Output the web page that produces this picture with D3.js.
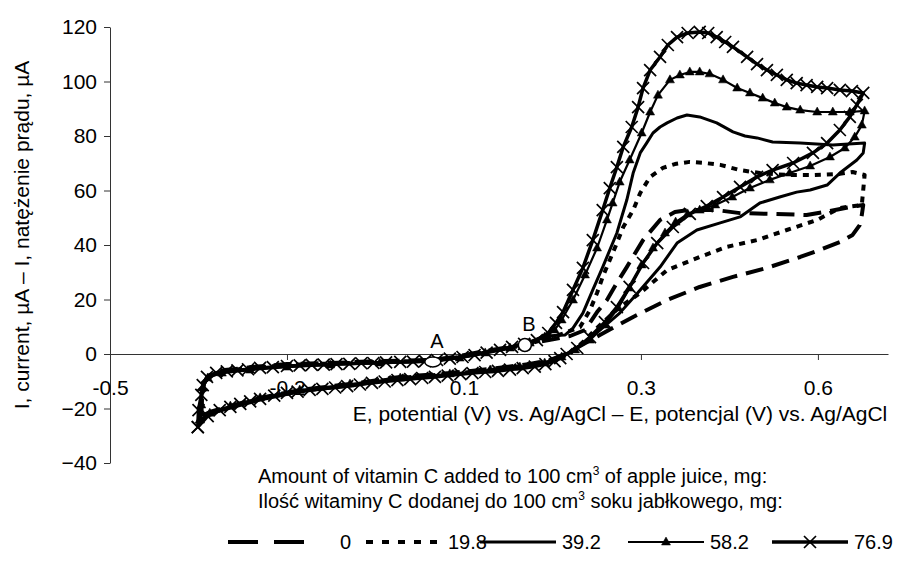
<!DOCTYPE html>
<html>
<head>
<meta charset="utf-8">
<script src="https://cdn.jsdelivr.net/npm/d3@7"></script>
<style>
  body { margin: 0; background: #fff; }
  text { font-family: "Liberation Sans", Arial, sans-serif; fill: #000; }
</style>
</head>
<body>
<svg id="chart" width="908" height="563"></svg>
<script>
// ---- data: [E (V), I (µA)], one loop per amount ----
const xTickValues = [-0.45, -0.2, 0.05, 0.3, 0.55];
const xTickLabels = ["-0.5", "-0.2", "0.1", "0.3", "0.6"];
const yTickValues = [-40, -20, 0, 20, 40, 60, 80, 100, 120];
const amounts = ["0", "19.8", "39.2", "58.2", "76.9"];

const cv0 = [
  [-0.321,-22.8],[-0.320,-16.5],[-0.317,-10.6],[-0.309,-7.7],[-0.288,-5.9],[-0.250,-4.8],[-0.200,-3.7],
  [-0.139,-3.3],[-0.069,-2.6],[0.006,-2.2],[0.044,-0.7],[0.080,1.1],[0.115,2.6],[0.143,4.0],[0.170,5.1],
  [0.200,6.6],[0.221,8.8],[0.238,15.4],[0.252,19.8],[0.266,26.1],[0.280,31.9],[0.303,41.8],[0.327,49.2],
  [0.348,52.1],[0.366,52.8],[0.407,52.8],[0.440,51.7],[0.489,51.4],[0.534,51.0],[0.567,52.5],[0.595,53.9],
  [0.614,54.7],[0.612,51.0],[0.609,47.3],[0.599,43.7],[0.581,41.1],[0.553,38.2],[0.525,35.6],[0.478,31.6],
  [0.430,28.3],[0.383,24.6],[0.337,19.8],[0.289,13.6],[0.242,7.0],[0.214,2.9],[0.193,0.0],[0.171,-2.2],
  [0.143,-3.7],[0.087,-5.5],[0.030,-7.0],[-0.040,-8.4],[-0.111,-11.0],[-0.182,-13.2],[-0.238,-16.1],
  [-0.280,-19.1],[-0.309,-21.3],[-0.321,-22.8]
];
const cv19 = [
  [-0.322,-23.5],[-0.321,-17.0],[-0.318,-11.0],[-0.310,-8.1],[-0.290,-6.2],[-0.250,-5.1],[-0.200,-4.0],
  [-0.139,-3.5],[-0.069,-2.9],[0.006,-2.4],[0.044,-1.1],[0.080,0.7],[0.115,2.2],[0.143,3.7],[0.164,5.5],
  [0.190,7.5],[0.214,9.9],[0.228,16.1],[0.238,22.4],[0.246,28.3],[0.256,34.5],[0.266,40.7],[0.275,46.6],
  [0.289,52.8],[0.299,59.1],[0.313,65.0],[0.331,68.3],[0.348,69.7],[0.369,70.5],[0.390,70.1],[0.412,69.4],
  [0.440,67.5],[0.468,66.4],[0.506,65.7],[0.543,65.7],[0.581,66.1],[0.599,66.8],[0.616,65.7],[0.614,60.2],
  [0.612,54.7],[0.581,53.6],[0.549,49.2],[0.506,45.5],[0.464,41.8],[0.421,39.3],[0.383,35.6],[0.337,30.8],
  [0.299,22.4],[0.270,17.2],[0.242,10.6],[0.221,5.1],[0.202,0.7],[0.181,-2.2],[0.143,-4.0],[0.087,-5.9],
  [0.030,-7.3],[-0.040,-8.8],[-0.111,-11.4],[-0.182,-13.6],[-0.238,-16.5],[-0.280,-19.4],[-0.309,-21.7],
  [-0.322,-23.5]
];
const cv39 = [
  [-0.323,-24.2],[-0.322,-18.0],[-0.318,-11.7],[-0.311,-8.1],[-0.290,-6.6],[-0.250,-5.5],[-0.200,-4.4],
  [-0.139,-3.7],[-0.069,-3.1],[0.006,-2.6],[0.044,-1.1],[0.080,0.7],[0.115,2.6],[0.143,4.4],[0.164,6.6],
  [0.193,7.0],[0.204,9.5],[0.218,15.0],[0.232,23.5],[0.246,31.9],[0.266,44.4],[0.280,56.5],[0.289,66.4],
  [0.299,73.8],[0.308,77.4],[0.317,81.1],[0.327,83.3],[0.337,84.8],[0.351,86.6],[0.365,87.7],[0.383,87.0],
  [0.407,84.8],[0.430,81.5],[0.447,80.0],[0.464,79.3],[0.486,77.8],[0.525,77.4],[0.571,76.7],[0.616,77.4],
  [0.614,73.8],[0.605,71.2],[0.581,66.4],[0.563,62.0],[0.539,60.2],[0.520,59.4],[0.496,57.6],[0.468,55.4],
  [0.440,50.3],[0.412,48.1],[0.379,45.5],[0.351,40.7],[0.327,31.9],[0.299,23.5],[0.270,15.0],[0.242,8.8],
  [0.221,4.4],[0.200,0.7],[0.178,-2.2],[0.143,-4.4],[0.087,-6.2],[0.030,-7.7],[-0.040,-9.2],[-0.111,-11.7],
  [-0.182,-13.9],[-0.238,-16.9],[-0.280,-19.8],[-0.309,-22.0],[-0.323,-24.2]
];
const cv58 = [
  [-0.323,-24.2],[-0.321,-18.7],[-0.319,-12.5],[-0.312,-8.8],[-0.292,-7.0],[-0.252,-5.9],[-0.200,-4.8],
  [-0.139,-4.0],[-0.069,-3.3],[0.006,-2.9],[0.044,-1.5],[0.080,0.4],[0.115,2.2],[0.143,4.0],[0.164,6.2],
  [0.178,8.8],[0.188,12.5],[0.204,19.8],[0.221,29.0],[0.238,38.9],[0.252,49.2],[0.260,55.4],[0.270,63.1],
  [0.284,71.2],[0.301,81.1],[0.313,88.8],[0.324,95.0],[0.341,100.6],[0.355,102.4],[0.369,103.5],
  [0.383,103.5],[0.397,102.8],[0.416,100.6],[0.436,97.6],[0.454,95.8],[0.472,93.9],[0.489,92.1],
  [0.506,90.6],[0.525,89.5],[0.549,88.8],[0.571,88.8],[0.595,88.8],[0.616,89.2],
  [0.612,84.0],[0.602,79.6],[0.588,75.6],[0.567,72.3],[0.539,69.0],[0.510,66.4],[0.482,63.9],[0.454,60.9],
  [0.429,57.6],[0.405,54.7],[0.383,52.8],[0.366,51.4],[0.349,48.4],[0.334,44.4],[0.317,38.9],[0.301,32.7],
  [0.284,24.2],[0.268,16.9],[0.249,10.6],[0.228,5.1],[0.207,1.5],[0.188,-1.1],[0.164,-3.3],[0.129,-4.8],
  [0.087,-5.9],[0.030,-7.3],[-0.040,-8.8],[-0.111,-11.0],[-0.182,-13.2],[-0.238,-16.1],[-0.280,-19.1],
  [-0.309,-21.7],[-0.323,-24.2]
];
const cv77 = [
  [-0.326,-26.8],[-0.325,-20.6],[-0.321,-15.0],[-0.319,-11.4],[-0.313,-8.4],[-0.300,-6.9],[-0.285,-6.4],
  [-0.270,-6.0],[-0.255,-5.6],[-0.238,-5.1],[-0.220,-4.8],[-0.200,-4.4],[-0.182,-4.2],[-0.165,-4.0],
  [-0.148,-3.9],[-0.130,-3.7],[-0.112,-3.6],[-0.095,-3.4],[-0.078,-3.3],[-0.060,-3.1],[-0.040,-2.9],
  [-0.022,-2.8],[-0.005,-2.6],[0.012,-2.2],[0.030,-1.7],[0.048,-1.1],[0.065,-0.4],[0.082,0.5],[0.101,1.5],
  [0.118,2.6],[0.135,3.7],[0.153,5.1],[0.169,7.7],[0.180,11.4],[0.190,15.4],
  [0.204,23.5],[0.218,31.6],[0.232,41.8],[0.246,52.8],[0.256,60.9],[0.266,68.6],[0.275,76.0],[0.287,83.3],
  [0.296,90.6],[0.303,97.6],[0.313,104.2],[0.327,109.0],[0.338,113.4],[0.351,116.3],[0.366,117.8],
  [0.383,118.2],[0.395,117.8],[0.407,116.3],[0.419,114.5],[0.430,112.7],[0.450,109.0],[0.464,106.4],
  [0.478,104.2],[0.492,102.4],[0.506,100.6],[0.520,99.4],[0.534,98.7],[0.549,98.0],[0.563,97.6],
  [0.581,96.9],[0.598,96.5],[0.614,95.8],
  [0.605,91.4],[0.595,87.0],[0.581,82.2],[0.563,77.4],[0.543,73.8],[0.515,70.1],[0.486,67.5],[0.464,65.0],
  [0.440,61.3],[0.416,57.6],[0.393,54.3],[0.369,51.4],[0.345,46.6],[0.323,40.7],[0.303,33.4],[0.284,24.6],
  [0.266,17.2],[0.249,11.7],[0.228,6.2],[0.210,2.2],[0.195,0.0],[0.186,-1.5],[0.178,-2.6],[0.165,-3.7],
  [0.150,-4.6],[0.133,-5.2],[0.115,-5.7],[0.098,-6.2],[0.080,-6.6],[0.062,-7.0],[0.045,-7.4],[0.027,-7.9],
  [0.009,-8.4],[-0.009,-8.8],[-0.026,-9.2],[-0.044,-9.6],[-0.062,-10.1],[-0.080,-10.6],[-0.097,-11.2],
  [-0.115,-11.8],[-0.132,-12.3],[-0.150,-12.8],[-0.168,-13.2],[-0.185,-13.8],[-0.200,-14.3],[-0.218,-15.3],
  [-0.238,-16.5],[-0.252,-17.4],[-0.266,-18.3],[-0.280,-19.4],[-0.295,-20.6],[-0.312,-22.8],[-0.326,-26.8]
];
const curves = [cv0, cv19, cv39, cv58, cv77];

// points A and B marked on the anodic branch
const pointLabels = ["A", "B"];
const pointE = [0.006, 0.136];
const pointI = [-2.9, 3.3];

// ---- layout ----
const svg = d3.select("#chart");
const x = d3.scaleLinear().domain([-0.45, 0.649]).range([110, 888]);
const y = d3.scaleLinear().domain([-40, 120]).range([463, 27]);

const styles = [
  {width: 4, dash: "18,9", marker: null},
  {width: 4, dash: "6,6", marker: null},
  {width: 3, dash: null, marker: null},
  {width: 2.2, dash: null, marker: "triangle"},
  {width: 3.5, dash: null, marker: "cross"}
];
const markerPath = {
  triangle: "M0,-5L4.5,3L-4.5,3Z",
  cross: "M-6,-6L6,6M-6,6L6,-6"
};

// y axis
svg.append("g")
    .attr("transform", "translate(110,0)")
    .call(d3.axisLeft(y).tickValues(yTickValues).tickSize(6).tickPadding(7).tickSizeOuter(0))
    .call(g => g.selectAll("text").style("font-size", "21px").style("font-family", "'Liberation Sans', Arial, sans-serif"))
    .call(g => g.selectAll("line,path").attr("stroke", "#333"));

// x axis through zero
svg.append("g")
    .attr("transform", `translate(0,${y(0)})`)
    .call(d3.axisBottom(x).tickValues(xTickValues).tickSize(6).tickPadding(20).tickSizeOuter(0)
      .tickFormat((d, i) => xTickLabels[i]))
    .call(g => g.selectAll("text").style("font-size", "21px").style("font-family", "'Liberation Sans', Arial, sans-serif"))
    .call(g => g.selectAll("line,path").attr("stroke", "#333"));

// axis titles
svg.append("text")
    .attr("transform", "translate(29,235) rotate(-90)")
    .attr("text-anchor", "middle")
    .style("font-size", "21px")
    .text("I, current, µA – I, natężenie prądu, µA");

svg.append("text")
    .attr("x", 620)
    .attr("y", 421)
    .attr("text-anchor", "middle")
    .style("font-size", "21px")
    .text("E, potential (V) vs. Ag/AgCl – E, potencjal (V) vs. Ag/AgCl");

// curves
const line = d3.line().x(d => x(d[0])).y(d => y(d[1]));

curves.forEach((data, k) => {
    const st = styles[k];
    svg.append("path")
        .attr("d", line(data))
        .attr("fill", "none")
        .attr("stroke", "#000")
        .attr("stroke-width", st.width)
        .attr("stroke-linejoin", "round")
        .attr("stroke-dasharray", st.dash);
    if (st.marker) {
        svg.selectAll(null)
            .data(data)
            .enter().append("path")
            .attr("transform", d => `translate(${x(d[0])},${y(d[1])})`)
            .attr("d", markerPath[st.marker])
            .attr("fill", st.marker === "triangle" ? "#000" : "none")
            .attr("stroke", "#000")
            .attr("stroke-width", st.marker === "cross" ? 1.7 : 0.5);
    }
});

// A / B points
pointLabels.forEach((lab, i) => {
    const px = x(pointE[i]), py = y(pointI[i]);
    svg.append("ellipse")
        .attr("cx", px).attr("cy", py)
        .attr("rx", i === 0 ? 8 : 6.5).attr("ry", i === 0 ? 5 : 6.5)
        .attr("fill", "#fff").attr("stroke", "#000").attr("stroke-width", 1.5);
    svg.append("text")
        .attr("x", px + 4).attr("y", py - 14)
        .attr("text-anchor", "middle")
        .style("font-size", "20px")
        .text(lab);
});

// legend title
const legTitle = svg.append("g").style("font-size", "20px");
const t1 = legTitle.append("text").attr("x", 258).attr("y", 483);
t1.append("tspan").text("Amount of vitamin C added to 100 cm");
t1.append("tspan").attr("dy", -8).style("font-size", "12px").text("3");
t1.append("tspan").attr("dy", 8).text(" of apple juice, mg:");
const t2 = legTitle.append("text").attr("x", 258).attr("y", 508);
t2.append("tspan").text("Ilość witaminy C dodanej do 100 cm");
t2.append("tspan").attr("dy", -8).style("font-size", "12px").text("3");
t2.append("tspan").attr("dy", 8).text(" soku jabłkowego, mg:");

// legend entries
const legendX = [228, 366, 480, 628, 772];
const legendDash = ["30,16", "7,9", null, null, null];
const legY = 542;
amounts.forEach((name, k) => {
    const st = styles[k];
    const x0 = legendX[k], x1 = x0 + (k === 0 ? 92 : 76);
    svg.append("line")
        .attr("x1", x0).attr("x2", x1).attr("y1", legY).attr("y2", legY)
        .attr("stroke", "#000")
        .attr("stroke-width", st.width)
        .attr("stroke-dasharray", legendDash[k]);
    if (st.marker) {
        svg.append("path")
            .attr("transform", `translate(${(x0 + x1) / 2},${legY})`)
            .attr("d", markerPath[st.marker])
            .attr("fill", st.marker === "triangle" ? "#000" : "none")
            .attr("stroke", "#000")
            .attr("stroke-width", st.marker === "cross" ? 1.7 : 0.5);
    }
    svg.append("text")
        .attr("x", x1 + (k === 0 ? 20 : 6))
        .attr("y", legY + 7)
        .style("font-size", "20px")
        .text(name);
});
</script>
</body>
</html>
